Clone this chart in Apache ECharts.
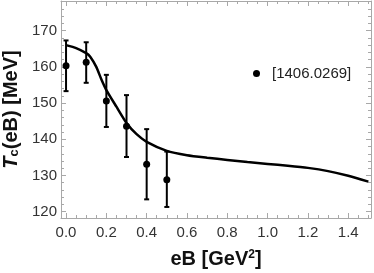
<!DOCTYPE html>
<html>
<head>
<meta charset="utf-8">
<script src="https://cdn.jsdelivr.net/npm/echarts@6/dist/echarts.min.js"></script>
<style>
html,body{margin:0;padding:0;background:#fff;}
#chart{width:374px;height:273px;}
</style>
</head>
<body>
<div id="chart"></div>
<script>
// ---- data ----
const ptX   = [0, 0.1, 0.2, 0.3, 0.4, 0.5];
const ptY   = [160.3, 161.3, 150.6, 143.6, 133.1, 128.8];
const errHi = [167.3, 166.8, 157.8, 152.2, 142.8, 136.6];
const errLo = [153.3, 155.6, 143.4, 135.1, 123.4, 121.3];

const curveX = [0, 0.05, 0.1, 0.12, 0.15, 0.175, 0.2, 0.25, 0.3, 0.35, 0.4, 0.5, 0.6, 0.7, 0.8, 0.9, 1.0, 1.1, 1.2, 1.3, 1.4, 1.5];
const curveY = [166.0, 165.2, 163.8, 162.8, 160.0, 156.6, 153.6, 149.0, 144.5, 141.4, 139.3, 136.8, 135.6, 134.9, 134.3, 133.7, 133.2, 132.7, 132.1, 131.2, 129.9, 128.3];

const xTicks = [0, 0.2, 0.4, 0.6, 0.8, 1.0, 1.2, 1.4];
const yTicks = [120, 130, 140, 150, 160, 170];
const legendName = '[1406.0269]';

// ---- layout ----
const xMin = -0.025, xMax = 1.513;
const yMin = 118.25, yMax = 178.2;

const xMinor = [];
for (let i = 0; i <= 30; i++) { const v = +(i * 0.05).toFixed(2); if (v <= xMax) xMinor.push(v); }
const yMinor = [];
for (let v = 120; v <= 178; v += 2) yMinor.push(v);

const frameColor = '#a8a8a8';
const labelFont = 'Liberation Sans, Arial, sans-serif';

function mkX(pos, major, withLabel, showLine) {
  return {
    type: 'value', position: pos, min: xMin, max: xMax,
    axisLine: { show: showLine, onZero: false, lineStyle: { color: frameColor, width: 1 } },
    axisTick: { show: true, inside: true, length: major ? 5 : 3, customValues: major ? xTicks : xMinor,
                lineStyle: { color: frameColor, width: 1 } },
    axisLabel: withLabel ? { show: true, customValues: xTicks, margin: 7, color: '#333', fontSize: 15,
                fontFamily: labelFont, formatter: v => v.toFixed(1) } : { show: false },
    splitLine: { show: false }
  };
}
function mkY(pos, major, withLabel, showLine) {
  return {
    type: 'value', position: pos, min: yMin, max: yMax,
    axisLine: { show: showLine, onZero: false, lineStyle: { color: frameColor, width: 1 } },
    axisTick: { show: true, inside: true, length: major ? 5 : 3, customValues: major ? yTicks : yMinor,
                lineStyle: { color: frameColor, width: 1 } },
    axisLabel: withLabel ? { show: true, customValues: yTicks, margin: 4, color: '#333', fontSize: 15,
                fontFamily: labelFont } : { show: false },
    splitLine: { show: false }
  };
}

const xAxes = [mkX('bottom', true, true, true), mkX('bottom', false, false, false),
               mkX('top', true, false, true), mkX('top', false, false, false)];
const yAxes = [mkY('left', true, true, true), mkY('left', false, false, false),
               mkY('right', true, false, true), mkY('right', false, false, false)];

xAxes[0].name = '{b|eB [GeV}{sup|2}{b|]}';
xAxes[0].nameLocation = 'middle';
xAxes[0].nameGap = 31;
xAxes[0].nameTextStyle = {
  rich: {
    b: { fontSize: 20, fontWeight: 'bold', color: '#111', fontFamily: labelFont },
    sup: { fontSize: 12, fontWeight: 'bold', color: '#111', fontFamily: labelFont, verticalAlign: 'top' }
  }
};
yAxes[0].name = '{t|T}{sub|c}{b|(eB) [MeV]}';
yAxes[0].nameLocation = 'middle';
yAxes[0].nameRotate = 90;
yAxes[0].nameGap = 38;
yAxes[0].nameTextStyle = {
  rich: {
    t: { fontSize: 20, fontWeight: 'bold', fontStyle: 'italic', color: '#111', fontFamily: labelFont },
    sub: { fontSize: 13, fontWeight: 'bold', color: '#111', fontFamily: labelFont, verticalAlign: 'bottom' },
    b: { fontSize: 20, fontWeight: 'bold', color: '#111', fontFamily: labelFont }
  }
};

const curveData = curveX.map((x, i) => [x, curveY[i]]);
const ptData = ptX.map((x, i) => [x, ptY[i]]);
const errData = ptX.map((x, i) => [x, errLo[i], errHi[i]]);

const chart = echarts.init(document.getElementById('chart'), null, { renderer: 'canvas' });
chart.setOption({
  animation: false,
  backgroundColor: '#fff',
  grid: { left: 61, right: 3, top: 1, bottom: 55, containLabel: false, outerBoundsMode: 'none' },
  xAxis: xAxes,
  yAxis: yAxes,
  legend: {
    data: [{ name: legendName, icon: 'circle' }],
    left: 248, top: 61, itemWidth: 7, itemHeight: 7, orient: 'vertical',
    textStyle: { fontSize: 15, color: '#222', fontFamily: labelFont, padding: [0, 0, 0, 7] }
  },
  series: [
    {
      type: 'line', data: curveData, smooth: 0.2, showSymbol: false, symbol: 'none',
      lineStyle: { color: '#000', width: 2.5 }, z: 3, silent: true
    },
    {
      type: 'custom', data: errData, z: 4, silent: true,
      renderItem: function (params, api) {
        const x = api.value(0);
        const lo = api.coord([x, api.value(1)]);
        const hi = api.coord([x, api.value(2)]);
        const hw = 2.5;
        const st = { stroke: '#000', lineWidth: 2 };
        return {
          type: 'group',
          children: [
            { type: 'line', shape: { x1: lo[0], y1: lo[1], x2: hi[0], y2: hi[1] }, style: st },
            { type: 'line', shape: { x1: hi[0] - hw, y1: hi[1], x2: hi[0] + hw, y2: hi[1] }, style: st },
            { type: 'line', shape: { x1: lo[0] - hw, y1: lo[1], x2: lo[0] + hw, y2: lo[1] }, style: st }
          ]
        };
      }
    },
    {
      type: 'scatter', name: legendName, data: ptData, symbol: 'circle', symbolSize: 7,
      itemStyle: { color: '#000', opacity: 1 }, z: 5
    }
  ]
});
</script>
</body>
</html>
